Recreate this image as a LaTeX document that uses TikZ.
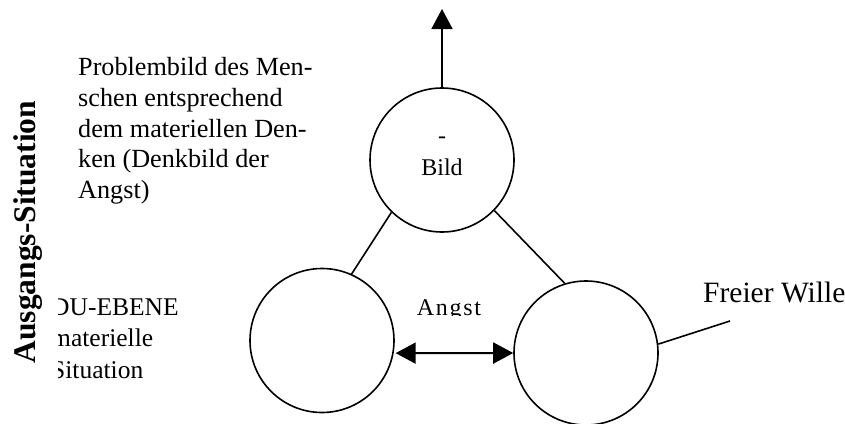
\documentclass[tikz,border=0pt]{standalone}
\usepackage{fontspec}
\setmainfont{Liberation Serif}
\usetikzlibrary{arrows.meta}
\begin{document}
\begin{tikzpicture}[x=1pt,y=-1pt,
  bubble/.style={draw, circle, minimum size=144pt, inner sep=0pt, line width=1.6pt},
  link/.style={line width=1.6pt},
  tipup/.style={-{Triangle[length=20pt,width=21pt]}, line width=1.8pt},
  tipboth/.style={{Triangle[length=20pt,width=21pt]}-{Triangle[length=20pt,width=21pt]}, line width=2pt, shorten <=2pt},
  txt/.style={inner sep=0pt, font=\fontsize{26.2}{30.75}\selectfont},
  small/.style={inner sep=0pt, font=\fontsize{24}{28}\selectfont}
]
\useasboundingbox (0,0) rectangle (845,423);
\node[bubble] (top) at (442,160) {};
\node[bubble] (left) at (322,340.5) {};
\node[bubble] (right) at (586,353) {};
\coordinate (apex) at (442,9);
\coordinate (will) at (730,321);
\draw[tipup] (top.north) -- (apex);
\draw[link] (top.226) -- (left.66);
\draw[link] (top.316) -- (right.107);
\draw[link] (right.7) -- (will);
\draw[tipboth] (left.-10) -- (right.west);

\node[txt, anchor=north west, align=left] (problem) at (78,57.2)
  {Problembild des Men-\\schen entsprechend\\dem materiellen Den-\\ken (Denkbild der\\Angst)};
\node[small, anchor=base] (dash) at (442,143) {-};
\node[small, anchor=base] (bild) at (442,175) {Bild};
\node[rotate=90, anchor=base, inner sep=0pt, font=\fontsize{31.5}{34}\selectfont\bfseries] (aus) at (35.5,232)
  {Ausgangs-Situation};
\node[anchor=base west, inner sep=0pt, font=\fontsize{29.5}{32}\selectfont] (wille) at (703,302) {Freier Wille};
\begin{scope}
  \clip (400,280) rectangle (500,315.5);
  \node[small, anchor=base, font=\fontsize{24}{28}\selectfont\addfontfeatures{LetterSpace=7}] (angst) at (449,315) {Angst};
\end{scope}
\begin{scope}
  \clip (58,280) rectangle (250,400);
  \node[inner sep=0pt, font=\fontsize{25.5}{31.5}\selectfont, anchor=north west, align=left] (du) at (51,298.2)
    {DU-EBENE\\materielle\\Situation};
\end{scope}
\end{tikzpicture}
\end{document}
